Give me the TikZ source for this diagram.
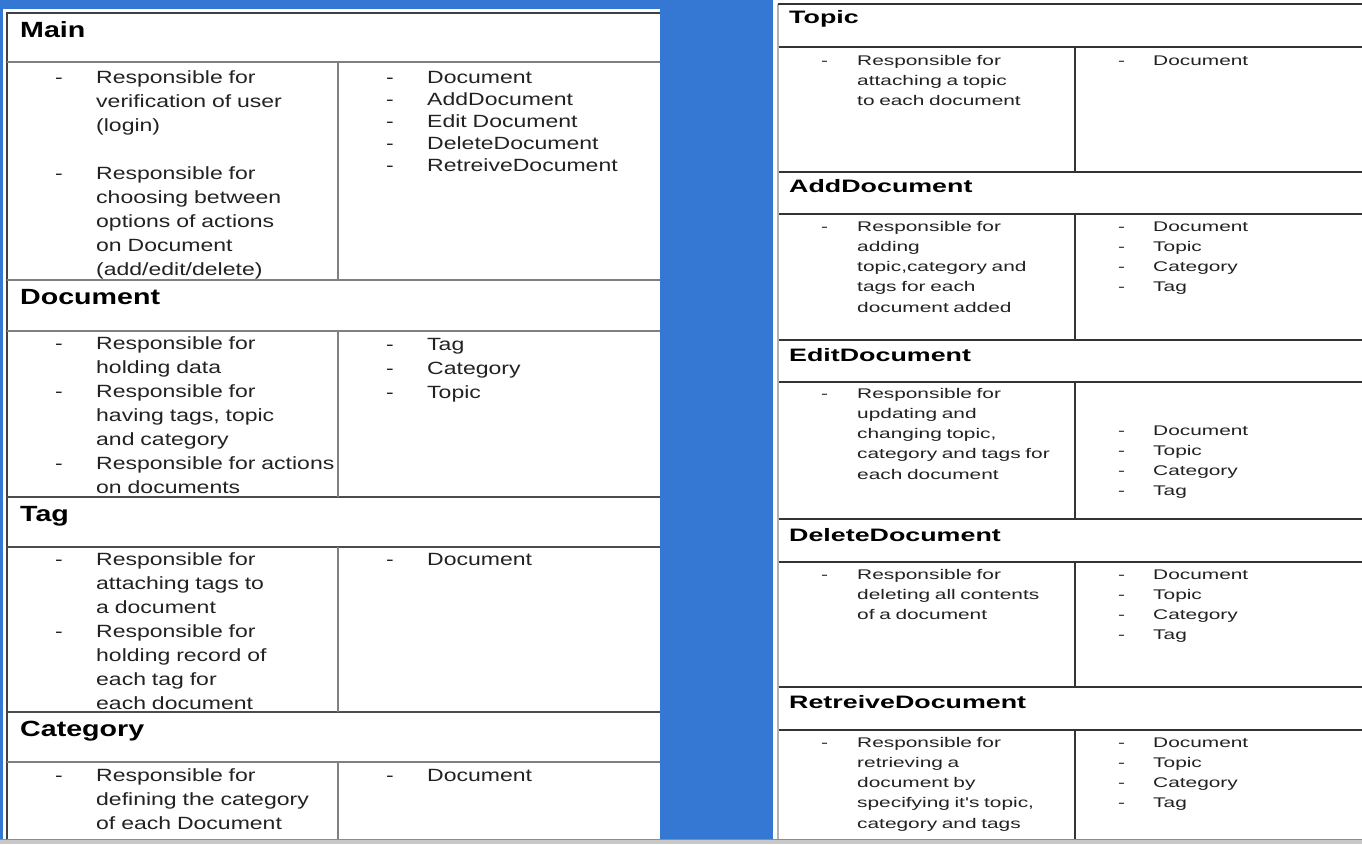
\documentclass[tikz,border=0pt]{standalone}
\usepackage{fontspec}
\newfontfamily\lsans[FakeStretch=1.3]{Liberation Sans}
\newfontfamily\rsans[FakeStretch=1.49]{Liberation Sans}
\definecolor{bgblue}{RGB}{52,120,212}
\definecolor{stripgray}{RGB}{200,200,200}
\definecolor{ink}{RGB}{34,34,34}
\begin{document}
\begin{tikzpicture}[x=1pt,y=-1pt,
  lrule/.style={draw=black!50,line width=1.3pt},
  rrule/.style={draw=black!80,line width=1.2pt},
  ltitle/.style={anchor=base west,inner sep=0pt,font=\lsans\bfseries\fontsize{22}{24}\selectfont},
  ltext/.style={anchor=base west,inner sep=0pt,align=left,text width=260pt,text=ink,font=\lsans\fontsize{17.7}{24}\selectfont},
  llist/.style={ltext,font=\lsans\fontsize{17.7}{22}\selectfont},
  rtitle/.style={anchor=base west,inner sep=0pt,font=\rsans\bfseries\fontsize{18}{20}\selectfont},
  rtext/.style={anchor=base west,inner sep=0pt,align=left,text width=210pt,text=ink,font=\rsans\fontsize{14}{20.3}\selectfont}]
\useasboundingbox (0,0) rectangle (1362,844);

% background and the two pages
\fill[bgblue] (0,0) rectangle (1362,844);
\fill[white] (3,9) rectangle (660,839);
\fill[white] (773,0) rectangle (1362,839);
\fill[stripgray] (0,839) rectangle (1362,844);
\draw[black!45,line width=1pt] (0,839)--(1362,839);

% left table
\draw[black!75,line width=1.3pt] (7,839)--(7,13)--(660,13);
\draw[lrule] (7,62)--(660,62);
\draw[lrule] (7,280)--(660,280);
\draw[lrule] (7,331)--(660,331);
\draw[black!70,line width=1.3pt] (7,497)--(660,497);
\draw[black!70,line width=1.3pt] (7,547)--(660,547);
\draw[black!70,line width=1.3pt] (7,712)--(660,712);
\draw[lrule] (7,762)--(660,762);
\draw[lrule] (338,62)--(338,280);
\draw[lrule] (338,331)--(338,497);
\draw[lrule] (338,547)--(338,712);
\draw[lrule] (338,762)--(338,839);

\node[ltitle] (main) at (20,37) {Main};
\node[ltext] (mainDa) at (55,83) {-};
\node[ltext] (mainLa) at (96,83) {Responsible for\\verification of user\\(login)};
\node[ltext] (mainDb) at (55,179) {-};
\node[ltext] (mainLb) at (96,179) {Responsible for\\choosing between\\options of actions\\on Document\\(add/edit/delete)};
\node[llist] (mainDr) at (386,83) {-\\-\\-\\-\\-};
\node[llist] (mainR) at (427,83) {Document\\AddDocument\\Edit Document\\DeleteDocument\\RetreiveDocument};

\node[ltitle] (doc) at (20,304) {Document};
\node[ltext] (docDa) at (55,349) {-};
\node[ltext] (docLa) at (96,349) {Responsible for\\holding data};
\node[ltext] (docDb) at (55,397) {-};
\node[ltext] (docLb) at (96,397) {Responsible for\\having tags, topic\\and category};
\node[ltext] (docDc) at (55,469) {-};
\node[ltext] (docLc) at (96,469) {Responsible for actions\\on documents};
\node[ltext] (docDr) at (386,350) {-\\-\\-};
\node[ltext] (docR) at (427,350) {Tag\\Category\\Topic};

\node[ltitle] (tag) at (20,521) {Tag};
\node[ltext] (tagDa) at (55,565) {-};
\node[ltext] (tagLa) at (96,565) {Responsible for\\attaching tags to\\a document};
\node[ltext] (tagDb) at (55,637) {-};
\node[ltext] (tagLb) at (96,637) {Responsible for\\holding record of\\each tag for\\each document};
\node[ltext] (tagDr) at (386,565) {-};
\node[ltext] (tagR) at (427,565) {Document};

\node[ltitle] (cat) at (20,736) {Category};
\node[ltext] (catDa) at (55,781) {-};
\node[ltext] (catLa) at (96,781) {Responsible for\\defining the category\\of each Document};
\node[ltext] (catDr) at (386,781) {-};
\node[ltext] (catR) at (427,781) {Document};

% right table
\draw[black!30,line width=1.5pt] (778,839)--(778,4);
\draw[rrule] (778,4)--(1362,4);
\draw[rrule] (779,47)--(1362,47);
\draw[rrule] (779,172)--(1362,172);
\draw[rrule] (779,214)--(1362,214);
\draw[rrule] (779,340)--(1362,340);
\draw[rrule] (779,382)--(1362,382);
\draw[rrule] (779,519)--(1362,519);
\draw[rrule] (779,562)--(1362,562);
\draw[rrule] (779,687)--(1362,687);
\draw[rrule] (779,730)--(1362,730);
\draw[rrule] (1075,47)--(1075,172);
\draw[rrule] (1075,214)--(1075,340);
\draw[rrule] (1075,382)--(1075,519);
\draw[rrule] (1075,562)--(1075,687);
\draw[rrule] (1075,730)--(1075,839);

\node[rtitle] (topic) at (789,23) {Topic};
\node[rtext] (topicDa) at (821,65) {-};
\node[rtext] (topicL) at (857,65) {Responsible for\\attaching a topic\\to each document};
\node[rtext] (topicDr) at (1118,65) {-};
\node[rtext] (topicR) at (1153,65) {Document};

\node[rtitle] (add) at (789,192) {AddDocument};
\node[rtext] (addDa) at (821,231) {-};
\node[rtext] (addL) at (857,231) {Responsible for\\adding\\topic,category and\\tags for each\\document added};
\node[rtext] (addDr) at (1118,231) {-\\-\\-\\-};
\node[rtext] (addR) at (1153,231) {Document\\Topic\\Category\\Tag};

\node[rtitle] (edit) at (789,361) {EditDocument};
\node[rtext] (editDa) at (821,398) {-};
\node[rtext] (editL) at (857,398) {Responsible for\\updating and\\changing topic,\\category and tags for\\each document};
\node[rtext] (editDr) at (1118,435) {-\\-\\-\\-};
\node[rtext] (editR) at (1153,435) {Document\\Topic\\Category\\Tag};

\node[rtitle] (del) at (789,541) {DeleteDocument};
\node[rtext] (delDa) at (821,579) {-};
\node[rtext] (delL) at (857,579) {Responsible for\\deleting all contents\\of a document};
\node[rtext] (delDr) at (1118,579) {-\\-\\-\\-};
\node[rtext] (delR) at (1153,579) {Document\\Topic\\Category\\Tag};

\node[rtitle] (ret) at (789,708) {RetreiveDocument};
\node[rtext] (retDa) at (821,747) {-};
\node[rtext] (retL) at (857,747) {Responsible for\\retrieving a\\document by\\specifying it's topic,\\category and tags};
\node[rtext] (retDr) at (1118,747) {-\\-\\-\\-};
\node[rtext] (retR) at (1153,747) {Document\\Topic\\Category\\Tag};
\end{tikzpicture}
\end{document}
